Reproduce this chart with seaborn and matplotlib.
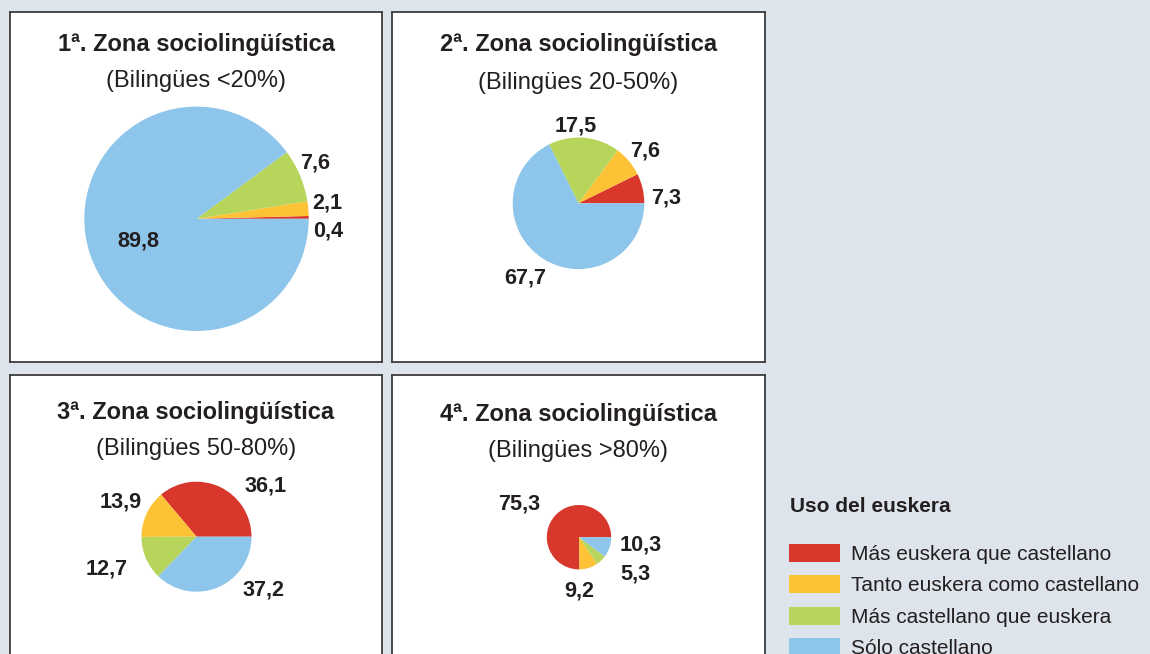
import matplotlib
matplotlib.use('Agg')
import matplotlib.pyplot as plt
import matplotlib.patches as mpatches
import seaborn as sns

# Datos (%): uso del euskera por zona sociolingüística
categorias = ['Más euskera que castellano', 'Tanto euskera como castellano',
              'Más castellano que euskera', 'Sólo castellano']
zona1 = [0.4, 2.1, 7.6, 89.8]
zona2 = [7.3, 7.6, 17.5, 67.7]
zona3 = [36.1, 13.9, 12.7, 37.2]
zona4 = [75.3, 9.2, 5.3, 10.3]
zonas = [zona1, zona2, zona3, zona4]

titulos = ['1ª. Zona sociolingüística', '2ª. Zona sociolingüística',
           '3ª. Zona sociolingüística', '4ª. Zona sociolingüística']
subtitulos = ['(Bilingües <20%)', '(Bilingües 20-50%)',
              '(Bilingües 50-80%)', '(Bilingües >80%)']

colores = ['#d8372b', '#fdc236', '#b7d55a', '#8ec5ea']
fondo = '#dde4ec'
texto = '#231f20'

# Maquetación en píxeles (y hacia abajo)
W, H = 1150, 654
paneles = [(10, 12, 382, 362), (392, 12, 765, 362),
           (10, 375, 382, 690), (392, 375, 765, 690)]
centros = [(196.5, 218.8), (578.5, 203.3), (196.5, 536.7), (579, 537.2)]
radios = [112.2, 65.8, 55, 32.2]
titulo_y = [44, 45, 413, 414]
subtitulo_y = [81, 83, 449, 451]
pos_etiquetas = [
    [(328, 228), (327.5, 200), (315, 160), (138, 239)],
    [(666.3, 195.3), (644.7, 148.7), (575.3, 123.7), (525.3, 275.3)],
    [(265.8, 483.3), (120.8, 499.3), (107, 566.7), (263.7, 587.7)],
    [(519.2, 501.7), (579.2, 588.3), (635.3, 571.7), (640.5, 542.7)],
]

sns.set_theme(style='white')
plt.rcParams['font.family'] = ['Liberation Sans', 'DejaVu Sans']

fig = plt.figure(figsize=(W / 100, H / 100), dpi=100, facecolor=fondo)

for i, valores in enumerate(zonas):
    x0, y0, x1, y1 = paneles[i]
    ax = fig.add_axes([x0 / W, 1 - y1 / H, (x1 - x0) / W, (y1 - y0) / H])
    ax.set_facecolor('white')
    cx, cy = centros[i]
    ax.pie(valores, colors=colores, startangle=0, counterclock=True,
           center=(cx, H - cy), radius=radios[i], frame=True,
           wedgeprops=dict(linewidth=0))
    ax.set_xlim(x0, x1)
    ax.set_ylim(H - y1, H - y0)
    ax.set_xticks([])
    ax.set_yticks([])
    for s in ax.spines.values():
        s.set_visible(True)
        s.set_color('#3c3c3c')
        s.set_linewidth(1.3)

    xm = (x0 + x1) / 2
    ax.text(xm, H - titulo_y[i], titulos[i], ha='center', va='center',
            fontsize=17, fontweight='bold', color=texto)
    ax.text(xm, H - subtitulo_y[i], subtitulos[i], ha='center', va='center',
            fontsize=17, color=texto)

    # etiquetas con coma decimal
    for v, (tx, ty) in zip(valores, pos_etiquetas[i]):
        ax.text(tx, H - ty, f'{v:.1f}'.replace('.', ','), ha='center',
                va='center_baseline', fontsize=15.6, fontweight='bold', color=texto)

# Leyenda
fig.text(790 / W, 1 - 507 / H, 'Uso del euskera', fontsize=15,
         fontweight='bold', color=texto, va='center', ha='left')
handles = [mpatches.Patch(facecolor=c, edgecolor='none') for c in colores]
leg = fig.legend(handles, categorias, loc='upper left',
                 bbox_to_anchor=(789 / W, 1 - 544 / H), frameon=False,
                 fontsize=15, borderpad=0, borderaxespad=0,
                 handlelength=2.45, handleheight=0.96, handletextpad=0.53,
                 labelspacing=0.53)
for t in leg.get_texts():
    t.set_color(texto)

plt.savefig('out.png', dpi=100, facecolor=fondo)
